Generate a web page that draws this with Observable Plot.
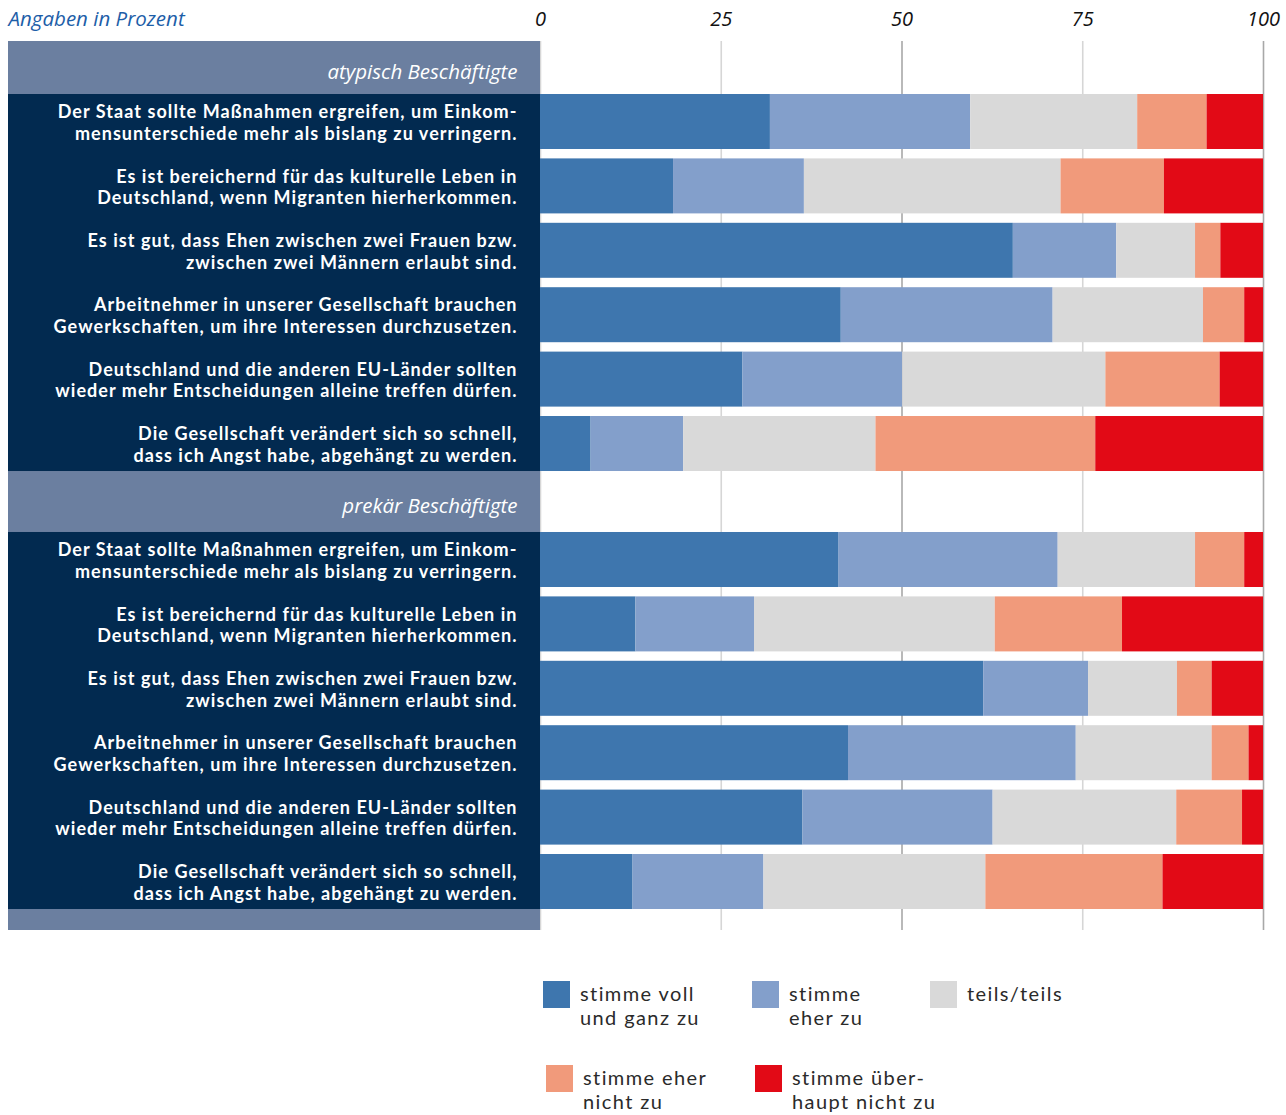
<!DOCTYPE html>
<html>
<head>
<meta charset="utf-8">
<script src="https://cdn.jsdelivr.net/npm/d3@7"></script>
<script src="https://cdn.jsdelivr.net/npm/@observablehq/plot@0.6"></script>
<style>
  html, body { margin: 0; padding: 0; background: #fff; }
  #wrap { position: relative; width: 1286px; height: 1115px; font-family: "Open Sans", sans-serif; }
  #chart svg { display: block; }
  .lg { position: absolute; display: flex; align-items: flex-start; }
  .sw { width: 27px; height: 27px; flex: none; }
  .lt { margin-left: 10px; margin-top: 0px; font-family: Lato, sans-serif; font-size: 20px; line-height: 24px; letter-spacing: 1.4px; color: #2a2a2a; font-weight: 400; }
  .lt div { height: 24px; white-space: nowrap; }
</style>
</head>
<body>
<div id="wrap">
  <div id="chart"></div>
  <div id="legend"></div>
</div>
<script>
// ---------- data ----------
const categories = ["stimme voll und ganz zu", "stimme eher zu", "teils/teils", "stimme eher nicht zu", "stimme überhaupt nicht zu"];
const legendLabels = ["stimme voll\nund ganz zu", "stimme\neher zu", "teils/teils", "stimme eher\nnicht zu", "stimme über-\nhaupt nicht zu"];
const colors = ["#3e76ae", "#839fcb", "#d9d9d9", "#f19a7b", "#e20a16"];
const groups = ["atypisch Beschäftigte", "prekär Beschäftigte"];
const statements = [
  "Der Staat sollte Maßnahmen ergreifen, um Einkom-\nmensunterschiede mehr als bislang zu verringern.",
  "Es ist bereichernd für das kulturelle Leben in\nDeutschland, wenn Migranten hierherkommen.",
  "Es ist gut, dass Ehen zwischen zwei Frauen bzw.\nzwischen zwei Männern erlaubt sind.",
  "Arbeitnehmer in unserer Gesellschaft brauchen\nGewerkschaften, um ihre Interessen durchzusetzen.",
  "Deutschland und die anderen EU-Länder sollten\nwieder mehr Entscheidungen alleine treffen dürfen.",
  "Die Gesellschaft verändert sich so schnell,\ndass ich Angst habe, abgehängt zu werden."
];
const atypisch = [
  [31.8, 27.7, 23.1, 9.6, 7.8],
  [18.4, 18.1, 35.5, 14.3, 13.7],
  [65.4, 14.3, 10.9, 3.5, 5.9],
  [41.6, 29.3, 20.8, 5.7, 2.6],
  [28.0, 22.1, 28.1, 15.8, 6.0],
  [7.0, 12.8, 26.6, 30.4, 23.2]
];
const prekaer = [
  [41.3, 30.3, 19.0, 6.8, 2.6],
  [13.2, 16.4, 33.3, 17.6, 19.5],
  [61.3, 14.5, 12.3, 4.8, 7.1],
  [42.6, 31.5, 18.8, 5.1, 2.0],
  [36.3, 26.3, 25.4, 9.1, 2.9],
  [12.8, 18.1, 30.7, 24.5, 13.9]
];
const tickValues = [0, 25, 50, 75, 100];
const unitLabel = "Angaben in Prozent";

// ---------- layout (row units) ----------
const headerH = [0.823, 0.947];
const barH = 0.854;
const footerH = 0.326;
const groupValues = [atypisch, prekaer];

const bars = [], labels = [], headers = [], panels = [];
let yCur = 0;
groupValues.forEach((vals, g) => {
  headers.push({name: groups[g], y1: yCur, y2: yCur + headerH[g]});
  yCur += headerH[g];
  const start = yCur;
  vals.forEach((row, k) => {
    const y1 = start + k, y2 = start + k + barH;
    let acc = 0;
    row.forEach((v, c) => {
      bars.push({cat: categories[c], x1: acc, x2: acc + v, y1, y2});
      acc += v;
    });
    labels.push({text: statements[k], y: (y1 + y2) / 2});
  });
  yCur = start + (vals.length - 1) + barH;
  panels.push({y1: start, y2: yCur});
});
headers.push({name: "", y1: yCur, y2: yCur + footerH});
const total = yCur + footerH;

const pxPerUnit = (1263 - 540) / 100;
const xmin = -(540 - 8) / pxPerUnit;
const labelX = -23 / pxPerUnit;

const plot = Plot.plot({
  width: 1286,
  height: 940,
  marginLeft: 8,
  marginRight: 23,
  marginTop: 41,
  marginBottom: 10,
  style: {fontFamily: "'Open Sans', sans-serif", background: "#fff"},
  x: {domain: [xmin, 100], axis: null},
  y: {domain: [0, total], reverse: true, axis: null},
  color: {domain: categories, range: colors},
  marks: [
    Plot.ruleX(tickValues, {x: d => d, y1: 0, y2: total, stroke: d => (d === 50 || d === 100) ? "#a8a8a8" : "#d6d6d6", strokeWidth: 1.6}),
    Plot.rect(headers, {x1: xmin, x2: 0, y1: "y1", y2: "y2", fill: "#6b7fa0"}),
    Plot.rect(panels, {x1: xmin, x2: 0, y1: "y1", y2: "y2", fill: "#022a50"}),
    Plot.rect(bars, {x1: "x1", x2: "x2", y1: "y1", y2: "y2", fill: "cat"}),
    Plot.text(headers.filter(d => d.name), {x: labelX, y: d => (d.y1 + d.y2) / 2, text: "name", textAnchor: "end", dy: 4, fill: "#fff", fontSize: 20.5, fontStyle: "italic"}),
    Plot.text(labels, {x: labelX, y: "y", text: "text", textAnchor: "end", lineHeight: 1.2, fill: "#fff", fontSize: 18, fontWeight: "bold", fontFamily: "Lato, sans-serif"}),
    Plot.text(tickValues, {x: d => d, y: 0, text: d => String(d), dy: -22, fill: "#111", fontSize: 20, fontStyle: "italic"}),
    Plot.text([unitLabel], {x: xmin, y: 0, text: d => d, dy: -22, textAnchor: "start", fill: "#1d5ea8", fontSize: 20.5, fontStyle: "italic"})
  ]
});
// widen the Lato row labels a little (Frutiger in the original runs wider)
plot.querySelectorAll("g[font-family^='Lato']").forEach(g => g.style.letterSpacing = "1.05px");
document.getElementById("chart").appendChild(plot);

// ---------- legend ----------
const legendPos = [[543, 981], [752, 981], [930, 981], [546, 1065], [755, 1065]];
const legend = document.getElementById("legend");
categories.forEach((c, i) => {
  const item = document.createElement("div");
  item.className = "lg";
  item.style.left = legendPos[i][0] + "px";
  item.style.top = legendPos[i][1] + "px";
  const sw = document.createElement("div");
  sw.className = "sw";
  sw.style.background = colors[i];
  const t = document.createElement("div");
  t.className = "lt";
  legendLabels[i].split("\n").forEach(line => {
    const l = document.createElement("div");
    l.textContent = line;
    t.appendChild(l);
  });
  item.appendChild(sw);
  item.appendChild(t);
  legend.appendChild(item);
});
</script>
</body>
</html>
